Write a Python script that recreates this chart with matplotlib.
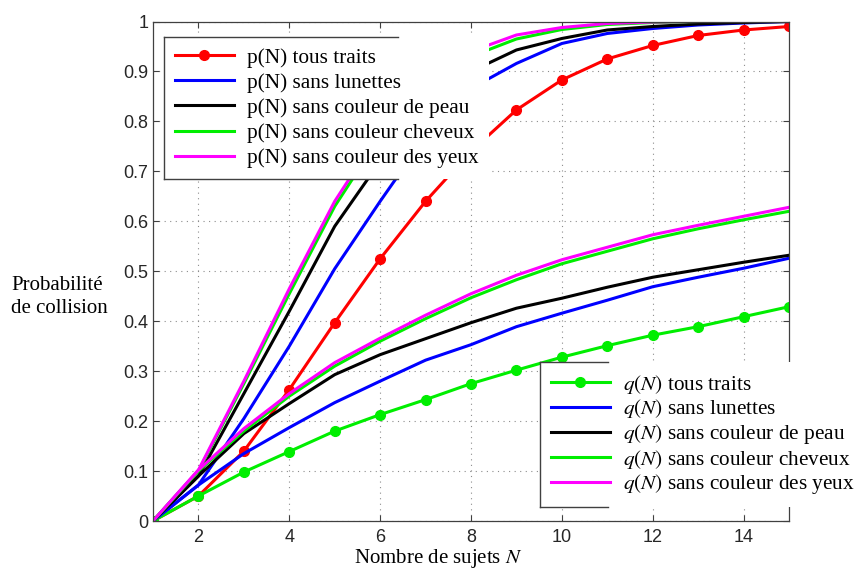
import numpy as np
import matplotlib.pyplot as plt
from matplotlib.lines import Line2D

plt.rcParams['mathtext.fontset'] = 'stix'

N = np.arange(1, 16)

# p(N)
p_tous = [0, 0.05, 0.14, 0.263, 0.397, 0.525, 0.64, 0.74, 0.823, 0.883, 0.925, 0.952, 0.972, 0.983, 0.99]
p_lunettes = [0, 0.072, 0.205, 0.35, 0.505, 0.64, 0.77, 0.866, 0.916, 0.956, 0.976, 0.986, 0.993, 0.997, 1.0]
p_peau = [0, 0.09, 0.255, 0.42, 0.59, 0.72, 0.83, 0.90, 0.943, 0.966, 0.983, 0.99, 0.995, 0.998, 1.0]
p_cheveux = [0, 0.1, 0.275, 0.455, 0.63, 0.77, 0.875, 0.93, 0.965, 0.984, 0.994, 0.998, 1.0, 1.0, 1.0]
p_yeux = [0, 0.102, 0.28, 0.465, 0.64, 0.78, 0.885, 0.94, 0.973, 0.988, 0.996, 0.999, 1.0, 1.0, 1.0]

# q(N)
q_tous = [0, 0.05, 0.098, 0.139, 0.18, 0.213, 0.243, 0.275, 0.302, 0.328, 0.351, 0.372, 0.389, 0.409, 0.429]
q_lunettes = [0, 0.072, 0.135, 0.187, 0.237, 0.28, 0.322, 0.353, 0.389, 0.416, 0.442, 0.469, 0.488, 0.506, 0.526]
q_peau = [0, 0.09, 0.175, 0.235, 0.293, 0.333, 0.365, 0.397, 0.426, 0.446, 0.468, 0.488, 0.503, 0.518, 0.532]
q_cheveux = [0, 0.1, 0.18, 0.25, 0.31, 0.36, 0.405, 0.447, 0.483, 0.515, 0.54, 0.565, 0.585, 0.603, 0.62]
q_yeux = [0, 0.102, 0.185, 0.255, 0.317, 0.366, 0.412, 0.455, 0.492, 0.523, 0.548, 0.573, 0.592, 0.61, 0.628]

suffixes = ["tous traits", "sans lunettes", "sans couleur de peau",
            "sans couleur cheveux", "sans couleur des yeux"]
couleurs = ["#ff0000", "#0000ff", "#000000", "#00ee00", "#ff00ff"]
couleurs_q = ["#00ee00", "#0000ff", "#000000", "#00ee00", "#ff00ff"]

fig = plt.figure(figsize=(8.59, 5.78), dpi=100)
ax = fig.add_axes([153/859, 57/578, 636/859, 499.5/578])

lw = 2.2
p_lines = []
for i, serie in enumerate([p_tous, p_lunettes, p_peau, p_cheveux, p_yeux]):
    mk = 'o' if i == 0 else None
    l, = ax.plot(N, serie, color=couleurs[i], lw=lw, marker=mk, ms=7,
                 label="p(N) " + suffixes[i])
    p_lines.append(l)

q_lines = []
for i, serie in enumerate([q_tous, q_lunettes, q_peau, q_cheveux, q_yeux]):
    mk = 'o' if i == 0 else None
    l, = ax.plot(N, serie, color=couleurs_q[i], lw=lw, marker=mk, ms=7,
                 label=r"$\mathit{q(N)}$ " + suffixes[i])
    q_lines.append(l)

ax.set_xlim(1, 15)
ax.set_ylim(0, 1)
ax.set_xticks(np.arange(2, 15, 2))
ax.set_yticks(np.round(np.arange(0, 1.01, 0.1), 1))
ax.set_yticklabels(["%g" % v for v in np.round(np.arange(0, 1.01, 0.1), 1)])
ax.tick_params(direction='in', top=True, right=True, length=4, width=0.8,
               labelsize=13, colors='#404040', labelcolor='#262626')
ax.tick_params(axis='x', pad=6)
for lab in ax.get_xticklabels() + ax.get_yticklabels():
    lab.set_family('Liberation Sans')
ax.grid(True, linestyle=(0, (1, 4)), color='#8c8c8c', linewidth=0.8)
for sp in ax.spines.values():
    sp.set_color('#404040')
    sp.set_linewidth(0.9)

fig.text(11/859, 1 - 297/578, "Probabilité\nde collision", family='Liberation Serif',
         size=15, ha='left', va='center', linespacing=1.35)
fig.text(438/859, 1 - 563/578, r"Nombre de sujets $\mathit{N}$", family='Liberation Serif',
         size=15, ha='center', va='baseline')

prop = dict(family='Liberation Serif', size=15.3)
common = dict(bbox_transform=fig.transFigure, prop=prop, frameon=True, fancybox=False,
              edgecolor='none', facecolor='white', framealpha=1, borderaxespad=0,
              borderpad=0.5, handlelength=2.8, handletextpad=0.6)
leg1 = ax.legend(handles=p_lines, loc='upper left', labelspacing=0.25,
                 bbox_to_anchor=(164/859, 1 - 37/578), **common)
ax.add_artist(leg1)
leg2 = ax.legend(handles=q_lines, loc='lower left', labelspacing=0.08,
                 bbox_to_anchor=(540/859, 1 - 507/578), **common)


def cadre_partiel(leg, frac):
    fig.canvas.draw()
    bb = leg.get_window_extent().transformed(fig.transFigure.inverted())
    x0, y0, x1, y1 = bb.x0, bb.y0, bb.x1, bb.y1
    xm = x0 + frac * (x1 - x0)
    for xs, ys in [([x0, x0], [y0, y1]), ([x0, xm], [y1, y1]), ([x0, xm], [y0, y0])]:
        fig.add_artist(Line2D(xs, ys, transform=fig.transFigure, color='#404040', lw=1))


cadre_partiel(leg1, 0.72)
cadre_partiel(leg2, 0.21)

fig.savefig("out.png", dpi=100)
